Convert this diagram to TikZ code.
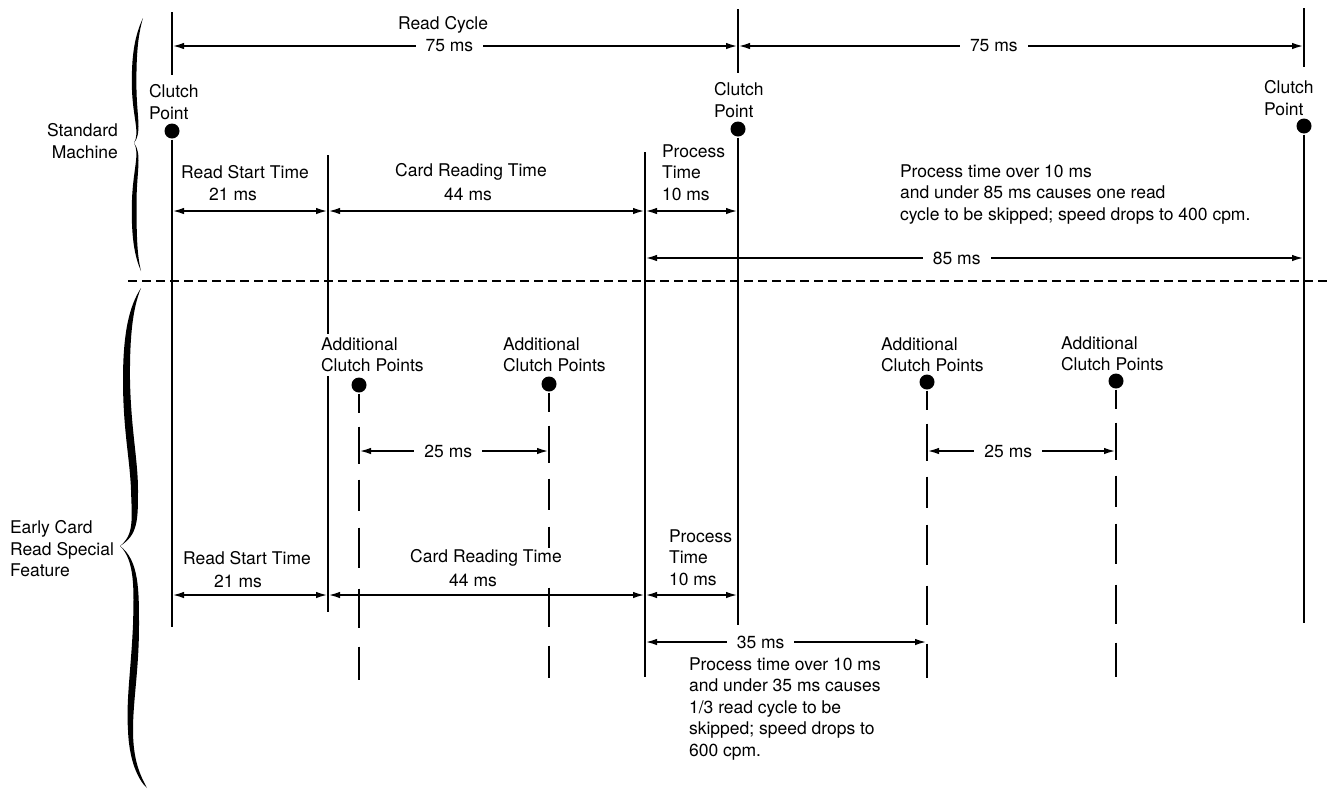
\documentclass[tikz,border=0pt]{standalone}
\usepackage{fontspec}
\setmainfont{TeX Gyre Heros}
\usetikzlibrary{arrows.meta,positioning}

\begin{document}
\begin{tikzpicture}[x=1pt,y=-1pt,line width=2.1pt,
    >={Latex[length=12pt,width=6.5pt]},
    font=\fontsize{17.5}{21.5}\selectfont,
    dot/.style={circle,fill,inner sep=0pt,minimum size=15pt},
    lbl/.style={inner sep=0pt,align=left},
    addlbl/.style={lbl,anchor=north west,fill=white,inner ysep=4pt},
    dim/.style={<->},
    gap/.style={fill=white,inner xsep=10pt,inner ysep=1pt},
    addline/.style={dash pattern=on 19pt off 14pt on 37pt off 16pt on 31pt off 17pt on 40pt off 21pt on 39pt off 19pt on 60pt off 20pt},
    sepline/.style={line width=1.6pt,dash pattern=on 9pt off 5pt}]
    \useasboundingbox (0,0) rectangle (1329,788);
    % clutch points and time marks
    \node[dot] (cpA) at (172,131) {};
    \node[dot] (cpB) at (738,129) {};
    \node[dot] (cpC) at (1304,126) {};
    \coordinate (cpAt) at (172,12);  \coordinate (cpAm) at (172,75);  \coordinate (cpAb) at (172,627);
    \coordinate (cpBt) at (738,9);   \coordinate (cpBm) at (738,73);  \coordinate (cpBb) at (738,625);
    \coordinate (cpCt) at (1304,8);  \coordinate (cpCm) at (1304,67); \coordinate (cpCb) at (1304,623);
    \coordinate (rsAt) at (328,155); \coordinate (rsAb) at (328,612);
    \coordinate (prAt) at (645,152); \coordinate (prAb) at (645,677);
    \draw (cpAt) -- (cpAm);  \draw (cpA) -- (cpAb);
    \draw (cpBt) -- (cpBm);  \draw (cpB) -- (cpBb);
    \draw (cpCt) -- (cpCm);  \draw (cpC) -- (cpCb);
    \draw (rsAt) -- (rsAb);
    \draw (prAt) -- (prAb);
    \node[lbl,anchor=north west] (cpAl) at (148,83.5) {Clutch\\Point};
    \node[lbl,anchor=north west] (cpBl) at (713,81.5) {Clutch\\Point};
    \node[lbl,anchor=north west] (cpCl) at (1263,79.5) {Clutch\\Point};
    % additional clutch points
    \node[addlbl] (acAl) at (320,332.5) {Additional\\Clutch Points};
    \node[addlbl] (acBl) at (502,332.5) {Additional\\Clutch Points};
    \node[addlbl] (acCl) at (880,332.5) {Additional\\Clutch Points};
    \node[addlbl] (acDl) at (1060,331.5) {Additional\\Clutch Points};
    \node[dot] (acA) at (359,385) {};
    \node[dot] (acB) at (549,384) {};
    \node[dot] (acC) at (927,382) {};
    \node[dot] (acD) at (1116,381) {};
    \coordinate (acAb) at (359,680); \coordinate (acBb) at (549,678);
    \coordinate (acCb) at (927,678); \coordinate (acDb) at (1116,677);
    \foreach \p in {acA,acB,acC,acD}
        \draw[addline] (\p) -- (\p b);
    % levels of the dimension lines
    \coordinate (yRC) at (0,46);
    \coordinate (ySM) at (0,211);
    \coordinate (y85) at (0,258);
    \coordinate (y25) at (0,451);
    \coordinate (yER) at (0,595);
    \coordinate (y35) at (0,642);
    % standard machine
    \node (rcl) at (443,25) {Read Cycle};
    \draw[dim] (cpA |- yRC) -- node[gap,pos=0.49] (rcA) {75 ms} (cpB |- yRC);
    \draw[dim] (cpB |- yRC) -- node[gap,pos=0.452] (rcB) {75 ms} (cpC |- yRC);
    \draw[dim] (cpA |- ySM) -- (rsAt |- ySM);
    \draw[dim] (rsAt |- ySM) -- (prAt |- ySM);
    \draw[dim] (prAt |- ySM) -- (cpB |- ySM);
    \node (rsl) at (245,172) {Read Start Time};
    \node (rsv) at (233,194) {21 ms};
    \node (crl) at (471,172) {Card Reading Time};
    \node (crv) at (468,194) {44 ms};
    \node[lbl,anchor=north west] (ptl) at (661,143.5) {Process\\Time\\10 ms};
    \node[lbl,anchor=north west] (notA) at (899,163.5) {Process time over 10 ms\\and under 85 ms causes one read\\cycle to be skipped; speed drops to 400 cpm.};
    \draw[dim] (prAt |- y85) -- node[gap,pos=0.473] (ms85) {85 ms} (cpC |- y85);
    % early card read special feature
    \draw[dim] (acA |- y25) -- node[gap,pos=0.47] (msA) {25 ms} (acB |- y25);
    \draw[dim] (acC |- y25) -- node[gap,pos=0.43] (msB) {25 ms} (acD |- y25);
    \draw[dim] (cpA |- yER) -- (rsAt |- yER);
    \draw[dim] (rsAt |- yER) -- (prAt |- yER);
    \draw[dim] (prAt |- yER) -- (cpB |- yER);
    \node (ersl) at (247,558) {Read Start Time};
    \node (ersv) at (238,581) {21 ms};
    \node[fill=white,inner sep=2pt] (ecrl) at (486,558) {Card Reading Time};
    \node (ecrv) at (473,580) {44 ms};
    \node[lbl,anchor=north west] (eptl) at (668,528.5) {Process\\Time\\10 ms};
    \draw[dim] (prAt |- y35) -- node[gap,pos=0.41] (ms35) {35 ms} (acC |- y35);
    \node[lbl,anchor=north west] (notB) at (688,656.5) {Process time over 10 ms\\and under 35 ms causes\\1/3 read cycle to be\\skipped; speed drops to\\600 cpm.};
    % separator and braces
    \coordinate (sepL) at (128,281); \coordinate (sepR) at (1329,281);
    \draw[sepline] (sepL) -- (sepR);
    \node[lbl,align=right,anchor=north east] (stdl) at (119,122.5) {Standard\\Machine};
    \node[lbl,anchor=north west] (ecrsl) at (9,519.5) {Early Card\\Read Special\\Feature};
    \fill (143,18) .. controls (135,35) and (131,55) .. (132,90)
        .. controls (133,118) and (140,133) .. (134,143)
        .. controls (140,153) and (133,170) .. (132,200)
        .. controls (131,235) and (134,255) .. (141,271)
        .. controls (137,255) and (136.5,235) .. (136.5,200)
        .. controls (137,170) and (142,153) .. (134,143)
        .. controls (142,133) and (137,118) .. (136.5,90)
        .. controls (136,55) and (138,35) .. (143,18) -- cycle;
    \fill (141,288) .. controls (130,305) and (123,330) .. (123,380)
        .. controls (123,430) and (130,460) .. (131,490)
        .. controls (132,520) and (134,535) .. (120,546)
        .. controls (135,560) and (134,590) .. (133,625)
        .. controls (131,670) and (126,700) .. (128,730)
        .. controls (129,760) and (138,780) .. (147,788)
        .. controls (140,775) and (133,760) .. (133,730)
        .. controls (133,700) and (139,670) .. (139,625)
        .. controls (139,590) and (139,560) .. (120,546)
        .. controls (138,535) and (138,520) .. (138,490)
        .. controls (138,460) and (131,430) .. (130,380)
        .. controls (129.5,330) and (134,305) .. (141,288) -- cycle;
\end{tikzpicture}
\end{document}
